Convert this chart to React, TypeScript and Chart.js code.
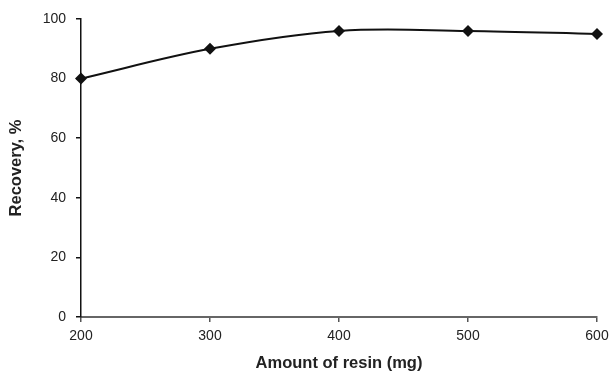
import React, { useEffect, useRef } from "react";
import { Chart, registerables } from "chart.js";

Chart.register(...registerables);

const resinAmounts = [200, 300, 400, 500, 600];
const recovery = [80, 90, 96, 96, 95];
const xTickValues = [200, 300, 400, 500, 600];
const yTickValues = [0, 20, 40, 60, 80, 100];

const FONT = "'Liberation Sans', Arial, sans-serif";

export default function App() {
  const ref = useRef<HTMLCanvasElement | null>(null);

  useEffect(() => {
    document.body.style.margin = "0";
    const canvas = ref.current;
    if (!canvas) return;
    const chart = new Chart(canvas, {
      type: "line",
      data: {
        datasets: [
          {
            data: resinAmounts.map((x, i) => ({ x, y: recovery[i] })),
            borderColor: "#111",
            borderWidth: 2,
            backgroundColor: "#111",
            pointStyle: "rectRot",
            pointRadius: 6,
            pointBackgroundColor: "#111",
            pointBorderColor: "#111",
            pointBorderWidth: 0,
            tension: 0.35,
            fill: false,
            clip: false,
          },
        ],
      },
      options: {
        responsive: false,
        animation: false,
        maintainAspectRatio: false,
        layout: { padding: { top: 19, right: 0, left: 0, bottom: 0 } },
        plugins: { legend: { display: false }, tooltip: { enabled: false } },
        scales: {
          x: {
            type: "linear",
            min: 200,
            max: 600,
            afterBuildTicks: (s: any) => {
              s.ticks = xTickValues.map((v) => ({ value: v }));
            },
            afterFit: (s: any) => {
              s.height = 56;
              s.paddingRight = 13;
              s.paddingLeft = 0;
            },
            grid: { drawOnChartArea: false, drawTicks: true, tickLength: 5, color: "#555", lineWidth: 1.5 },
            border: { display: true, color: "#666", width: 2 },
            ticks: { color: "#222", font: { family: FONT, size: 14 }, padding: 6, maxRotation: 0 },
            title: {
              display: true,
              text: "Amount of resin (mg)",
              color: "#222",
              font: { family: FONT, size: 16.5, weight: "bold" },
              padding: { top: 0, bottom: 0 },
            },
          },
          y: {
            type: "linear",
            min: 0,
            max: 100,
            afterBuildTicks: (s: any) => {
              s.ticks = yTickValues.map((v) => ({ value: v }));
            },
            afterFit: (s: any) => {
              s.width = 81;
              s.paddingTop = 0;
              s.paddingBottom = 0;
            },
            grid: { drawOnChartArea: false, drawTicks: true, tickLength: 5, color: "#111", lineWidth: 1.5 },
            border: { display: true, color: "#111", width: 1.5 },
            ticks: { color: "#222", font: { family: FONT, size: 14 }, padding: 10 },
            title: {
              display: true,
              text: "Recovery, %",
              color: "#222",
              font: { family: FONT, size: 16.5, weight: "bold" },
              padding: { top: 7, bottom: 0 },
            },
          },
        },
      },
    });
    return () => chart.destroy();
  }, []);

  return (
    <div style={{ position: "absolute", left: 0, top: 0, width: 610, height: 373 }}>
      <canvas ref={ref} width={610} height={373} style={{ display: "block" }} />
    </div>
  );
}
